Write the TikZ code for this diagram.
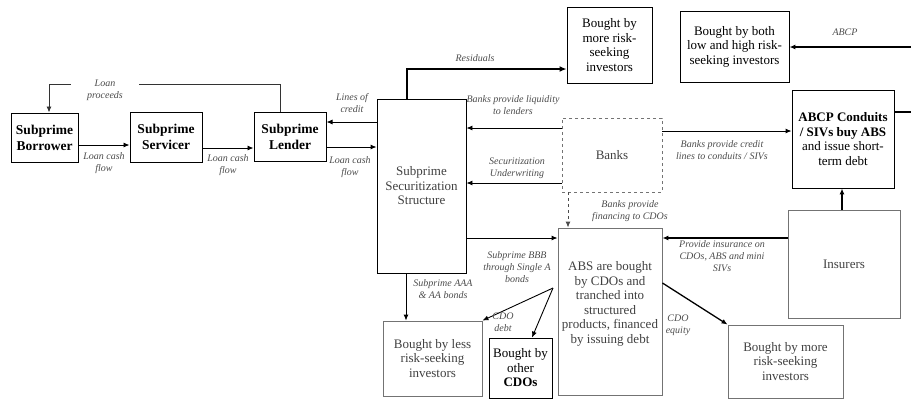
\documentclass[tikz,border=0pt]{standalone}
\usepackage{fontspec}
\setmainfont{Liberation Serif}
\usetikzlibrary{arrows.meta}
\begin{document}
\begin{tikzpicture}[x=1pt,y=-1pt,
  box/.style={draw, line width=0.9pt, align=center, inner sep=0pt, font=\fontsize{13}{14.5}\selectfont},
  bbox/.style={box, line width=1pt, font=\fontsize{13.5}{16}\selectfont\bfseries},
  gbox/.style={box, draw=black!55, text=black!75},
  lbl/.style={align=center, inner sep=1pt, font=\fontsize{10}{12}\selectfont\itshape, text=black!70},
  arr/.style={line width=0.9pt, -{Latex[length=6pt,width=5pt]}},
]
\useasboundingbox (0,0) rectangle (911,400);

% boxes
\node[bbox, minimum width=67, minimum height=49] (borrower) at (44.5,137.5) {Subprime\\Borrower};
\node[bbox, minimum width=72, minimum height=50] (servicer) at (166,137) {Subprime\\Servicer};
\node[bbox, minimum width=72, minimum height=49] (lender) at (290,136.5) {Subprime\\Lender};
\node[box, minimum width=89, minimum height=174, text=black!75] (sec) at (421.5,186) {Subprime\\Securitization\\Structure};
\node[box, minimum width=85, minimum height=76] (morerisk) at (609.5,45) {Bought by\\more risk-\\seeking\\investors};
\node[box, minimum width=109, minimum height=71] (both) at (734.5,46.5) {Bought by both\\low and high risk-\\seeking investors};
\node[box, minimum width=102, minimum height=98] (abcp) at (843,139) {\textbf{ABCP Conduits}\\\textbf{/ SIVs buy ABS}\\and issue short-\\term debt};
\node[gbox, dashed, minimum width=100, minimum height=74] (banks) at (612,155) {Banks};
\node[gbox, minimum width=104, minimum height=167] (abs) at (610,311.5) {ABS are bought\\by CDOs and\\tranched into\\structured\\products, financed\\by issuing debt\\[4pt]};
\node[gbox, minimum width=112, minimum height=108] (insurers) at (844,264) {Insurers};
\node[gbox, minimum width=99, minimum height=75] (lessrisk) at (432.5,358.5) {Bought by less\\risk-seeking\\investors};
\node[box, minimum width=63, minimum height=60] (othercdo) at (520.5,368) {Bought by\\other\\\textbf{CDOs}};
\node[gbox, minimum width=115, minimum height=73] (morerisk2) at (785.5,361.5) {Bought by more\\risk-seeking\\investors};

% connectors
\draw[arr, draw=black!80] ([xshift=-10]lender.north) |- ([xshift=4.5]borrower.north |- 0,84) -- ([xshift=4.5]borrower.north);
\node[lbl, fill=white, minimum width=68] (lproc) at (105,90) {Loan\\proceeds};

\draw[arr] (borrower.east |- 0,145) -- (servicer.west |- 0,145);
\node[lbl] (lcf1) at (104,163) {Loan cash\\flow};
\draw[arr] (servicer.east |- 0,148) -- (lender.west |- 0,148);
\node[lbl] (lcf2) at (228,165) {Loan cash\\flow};
\draw[arr] (sec.west |- 0,122) -- (lender.east |- 0,122);
\node[lbl] (loc) at (352,103) {Lines of\\credit};
\draw[arr] (lender.east |- 0,147) -- (sec.west |- 0,147);
\node[lbl] (lcf3) at (350,167) {Loan cash\\flow};

\draw[arr, line width=1.8pt, -{Latex[length=7pt,width=6pt]}] (sec.north -| 407,0) |- (morerisk.west |- 0,69);
\node[lbl] (resid) at (475,58) {Residuals};

\draw[arr] (banks.west |- 0,128) -- (sec.east |- 0,128);
\node[lbl] (liq) at (513,105) {Banks provide liquidity\\to lenders};
\draw[arr] (banks.west |- 0,183) -- (sec.east |- 0,183);
\node[lbl] (under) at (517,168) {Securitization\\Underwriting};
\draw[arr] (sec.east |- 0,238) -- (abs.west |- 0,238);
\node[lbl] (bbb) at (517,267) {Subprime BBB\\through Single A\\bonds};

\draw[arr, dashed, draw=black!70] (banks.south -| 568,0) -- (abs.north -| 568,0);
\node[lbl] (fin) at (630,211) {Banks provide\\financing to CDOs};
\draw[arr] (banks.east |- 0,131) -- (abcp.west |- 0,131);
\node[lbl] (cred) at (722,150) {Banks provide credit\\lines to conduits / SIVs};

\draw[arr, line width=1.5pt] (abcp.east |- 0,112) -- (914,112) |- (both.east |- 0,47);
\node[lbl] (abcplbl) at (845,32) {ABCP};

\draw[arr, line width=1.3pt] (insurers.north -| 842,0) -- (abcp.south -| 842,0);
\draw[arr, line width=1.1pt] (insurers.west |- 0,238) -- (abs.east |- 0,238);
\node[lbl] (ins) at (722,256) {Provide insurance on\\CDOs, ABS and mini\\SIVs};

\draw[arr] (sec.south -| 406,0) -- (lessrisk.north -| 406,0);
\node[lbl] (aaa) at (443,289) {Subprime AAA\\\& AA bonds};

\coordinate (cdodebt) at (553,288);
\draw[arr] (cdodebt) -- (lessrisk.north east);
\draw[arr] (cdodebt) -- ([xshift=11.5]othercdo.north);
\node[lbl] (debt) at (503,322) {CDO\\debt};

\draw[arr, line width=1.3pt] (abs.east |- 0,283) -- (morerisk2.north west);
\node[lbl] (eq) at (678,325) {CDO\\equity};
\end{tikzpicture}
\end{document}
